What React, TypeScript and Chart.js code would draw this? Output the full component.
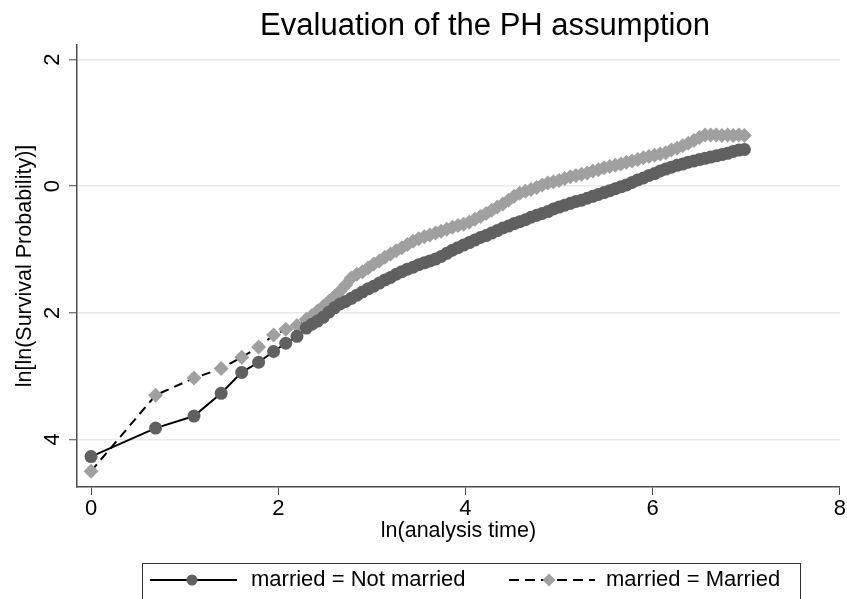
import React, { useEffect, useRef } from "react";
import { Chart, registerables } from "chart.js";

Chart.register(...registerables);

const chartTitle = "Evaluation of the PH assumption";
const xAxisTitle = "ln(analysis time)";
const yAxisTitle = "ln[ln(Survival Probability)]";
const seriesNames = ["married = Not married", "married = Married"];
const yTickValues = [-4, -2, 0, 2];
const yTickLabels = ["4", "2", "0", "2"];

const notMarriedX = [
  0, 0.69, 1.1, 1.39, 1.61, 1.79, 1.95, 2.08, 2.2,
  2.3, 2.36, 2.42, 2.48, 2.54, 2.6, 2.66, 2.72, 2.78, 2.84, 2.9, 2.96,
  3.02, 3.08, 3.14, 3.2, 3.26, 3.32, 3.38, 3.44, 3.5, 3.56, 3.62, 3.68, 3.74, 3.8, 3.86, 3.92, 3.98,
  4.04, 4.1, 4.16, 4.22, 4.28, 4.34, 4.4, 4.46, 4.52, 4.58, 4.64, 4.7, 4.76, 4.82, 4.88, 4.94,
  5.0, 5.06, 5.12, 5.18, 5.24, 5.3, 5.36, 5.42, 5.48, 5.54, 5.6, 5.66, 5.72, 5.78, 5.84, 5.9, 5.96,
  6.02, 6.08, 6.14, 6.2, 6.26, 6.32, 6.38, 6.44, 6.5, 6.56, 6.62, 6.68, 6.74, 6.8, 6.86, 6.92, 6.98,
];
const notMarriedY = [
  -4.27, -3.82, -3.63, -3.27, -2.94, -2.78, -2.61, -2.48, -2.37,
  -2.24, -2.18, -2.13, -2.07, -1.99, -1.92, -1.86, -1.82, -1.77, -1.72, -1.67, -1.62,
  -1.58, -1.53, -1.48, -1.44, -1.39, -1.35, -1.31, -1.28, -1.24, -1.21, -1.18, -1.15, -1.11, -1.06, -1.01, -0.97, -0.93,
  -0.89, -0.85, -0.81, -0.78, -0.74, -0.7, -0.66, -0.63, -0.59, -0.56, -0.53, -0.49, -0.46, -0.43, -0.4, -0.36,
  -0.33, -0.3, -0.27, -0.24, -0.22, -0.19, -0.16, -0.13, -0.1, -0.07, -0.04, -0.01, 0.02, 0.06, 0.1, 0.13, 0.17,
  0.2, 0.24, 0.27, 0.3, 0.33, 0.35, 0.38, 0.4, 0.42, 0.44, 0.46, 0.48, 0.5, 0.52, 0.55, 0.57, 0.58,
];

const marriedX = [
  0, 0.69, 1.1, 1.39, 1.61, 1.79, 1.95, 2.08, 2.2,
  2.3, 2.36, 2.42, 2.48, 2.54, 2.6, 2.66, 2.72, 2.78, 2.84, 2.9, 2.96,
  3.02, 3.08, 3.14, 3.2, 3.26, 3.32, 3.38, 3.44, 3.5, 3.56, 3.62, 3.68, 3.74, 3.8, 3.86, 3.92, 3.98,
  4.04, 4.1, 4.16, 4.22, 4.28, 4.34, 4.4, 4.46, 4.52, 4.58, 4.64, 4.7, 4.76, 4.82, 4.88, 4.94,
  5.0, 5.06, 5.12, 5.18, 5.24, 5.3, 5.36, 5.42, 5.48, 5.54, 5.6, 5.66, 5.72, 5.78, 5.84, 5.9, 5.96,
  6.02, 6.08, 6.14, 6.2, 6.26, 6.32, 6.38, 6.44, 6.5, 6.56, 6.62, 6.68, 6.74, 6.8, 6.86, 6.92, 6.98,
];
const marriedY = [
  -4.5, -3.3, -3.03, -2.88, -2.7, -2.54, -2.35, -2.26, -2.2,
  -2.1, -2.04, -1.97, -1.9, -1.82, -1.74, -1.66, -1.56, -1.45, -1.39, -1.35, -1.29,
  -1.23, -1.18, -1.12, -1.07, -1.02, -0.97, -0.92, -0.87, -0.83, -0.8, -0.77, -0.74, -0.71, -0.68, -0.65, -0.62, -0.6,
  -0.57, -0.52, -0.48, -0.43, -0.38, -0.33, -0.28, -0.22, -0.16, -0.11, -0.08, -0.05, -0.02, 0.02, 0.05, 0.07,
  0.09, 0.12, 0.15, 0.17, 0.19, 0.21, 0.24, 0.26, 0.29, 0.31, 0.33, 0.35, 0.38, 0.4, 0.42, 0.45, 0.47,
  0.49, 0.51, 0.53, 0.57, 0.6, 0.64, 0.68, 0.72, 0.77, 0.81, 0.81, 0.81, 0.8, 0.81, 0.8, 0.81, 0.8,
];

const FONT = '"Liberation Sans", Arial, Helvetica, sans-serif';
const DARK = "#606060";
const LIGHT = "#a0a0a0";
const AXIS = "#4a4a4a";

const overlayPlugin = {
  id: "overlay",
  afterDraw(chart: any) {
    const ctx = chart.ctx;
    ctx.save();
    ctx.fillStyle = "#000";
    ctx.textBaseline = "middle";
    ctx.textAlign = "center";
    ctx.font = `31px ${FONT}`;
    ctx.fillText(chartTitle, 485, 26);

    // legend box
    ctx.strokeStyle = "#333";
    ctx.lineWidth = 1;
    ctx.strokeRect(142.5, 563.5, 658, 60);
    const ly = 580;
    // item 1
    ctx.strokeStyle = "#000";
    ctx.lineWidth = 2;
    ctx.setLineDash([]);
    ctx.beginPath();
    ctx.moveTo(150, ly);
    ctx.lineTo(237, ly);
    ctx.stroke();
    ctx.fillStyle = DARK;
    ctx.beginPath();
    ctx.arc(192, ly, 5.5, 0, Math.PI * 2);
    ctx.fill();
    ctx.fillStyle = "#000";
    ctx.textAlign = "left";
    ctx.font = `22px ${FONT}`;
    ctx.fillText(seriesNames[0], 251, ly);
    // item 2
    ctx.setLineDash([10, 6]);
    ctx.beginPath();
    ctx.moveTo(509, ly);
    ctx.lineTo(595, ly);
    ctx.stroke();
    ctx.setLineDash([]);
    ctx.fillStyle = LIGHT;
    ctx.beginPath();
    ctx.moveTo(549 - 6.5, ly);
    ctx.lineTo(549, ly - 6.5);
    ctx.lineTo(549 + 6.5, ly);
    ctx.lineTo(549, ly + 6.5);
    ctx.closePath();
    ctx.fill();
    ctx.fillStyle = "#000";
    ctx.fillText(seriesNames[1], 606, ly);
    ctx.restore();
  },
};

export default function App() {
  const ref = useRef<HTMLCanvasElement | null>(null);
  useEffect(() => {
    document.body.style.margin = "0";
    const canvas = ref.current;
    if (!canvas) return;
    const chart = new Chart(canvas, {
      type: "line",
      data: {
        datasets: [
          {
            label: seriesNames[0],
            data: notMarriedX.map((x, i) => ({ x, y: notMarriedY[i] })),
            borderColor: "#000",
            borderWidth: 2,
            pointStyle: "circle",
            pointRadius: 6.5,
            pointBackgroundColor: DARK,
            pointBorderColor: DARK,
            pointBorderWidth: 0,
            tension: 0,
            fill: false,
          },
          {
            label: seriesNames[1],
            data: marriedX.map((x, i) => ({ x, y: marriedY[i] })),
            borderColor: "#000",
            borderWidth: 2,
            borderDash: [9, 6],
            pointStyle: "rectRot",
            pointRadius: 7.5,
            pointBackgroundColor: LIGHT,
            pointBorderColor: LIGHT,
            pointBorderWidth: 0,
            tension: 0,
            fill: false,
          },
        ],
      },
      options: {
        animation: false,
        responsive: false,
        layout: { autoPadding: false, padding: { top: 45, right: 2, bottom: 52, left: 0 } },
        plugins: { legend: { display: false }, title: { display: false }, tooltip: { enabled: false } },
        scales: {
          x: {
            type: "linear",
            min: -0.15,
            max: 8,
            afterFit: (s: any) => { s.height = 60; },
            ticks: {
              stepSize: 2,
              includeBounds: false,
              color: "#000",
              font: { family: FONT, size: 22 },
              padding: 1,
              maxRotation: 0,
              minRotation: 0,
            },
            grid: { drawOnChartArea: false, drawTicks: true, tickLength: 8, tickColor: AXIS, tickWidth: 1 },
            border: { display: true, color: AXIS, width: 1.5 },
            title: {
              display: true,
              text: xAxisTitle,
              color: "#000",
              font: { family: FONT, size: 21.5 },
              padding: { top: 0, bottom: 3 },
            },
          },
          y: {
            type: "linear",
            min: -4.75,
            max: 2.23,
            afterFit: (s: any) => { s.width = 77; },
            ticks: {
              stepSize: 2,
              includeBounds: false,
              color: "#000",
              font: { family: FONT, size: 22 },
              minRotation: 90,
              maxRotation: 90,
              crossAlign: "center",
              padding: 10,
              callback: (v: any) => {
                const i = yTickValues.indexOf(Number(v));
                return i >= 0 ? yTickLabels[i] : "";
              },
            },
            grid: { color: "#e8e8e8", lineWidth: 1.5, drawTicks: true, tickLength: 8, tickColor: AXIS, tickWidth: 1 },
            border: { display: true, color: AXIS, width: 1.5 },
            title: {
              display: true,
              text: yAxisTitle,
              color: "#000",
              font: { family: FONT, size: 21.5 },
              padding: { top: 12, bottom: 0 },
            },
          },
        },
      },
      plugins: [overlayPlugin],
    });
    return () => chart.destroy();
  }, []);
  return (
    <div style={{ width: 847, height: 599 }}>
      <canvas ref={ref} width={847} height={599} style={{ display: "block" }} />
    </div>
  );
}
